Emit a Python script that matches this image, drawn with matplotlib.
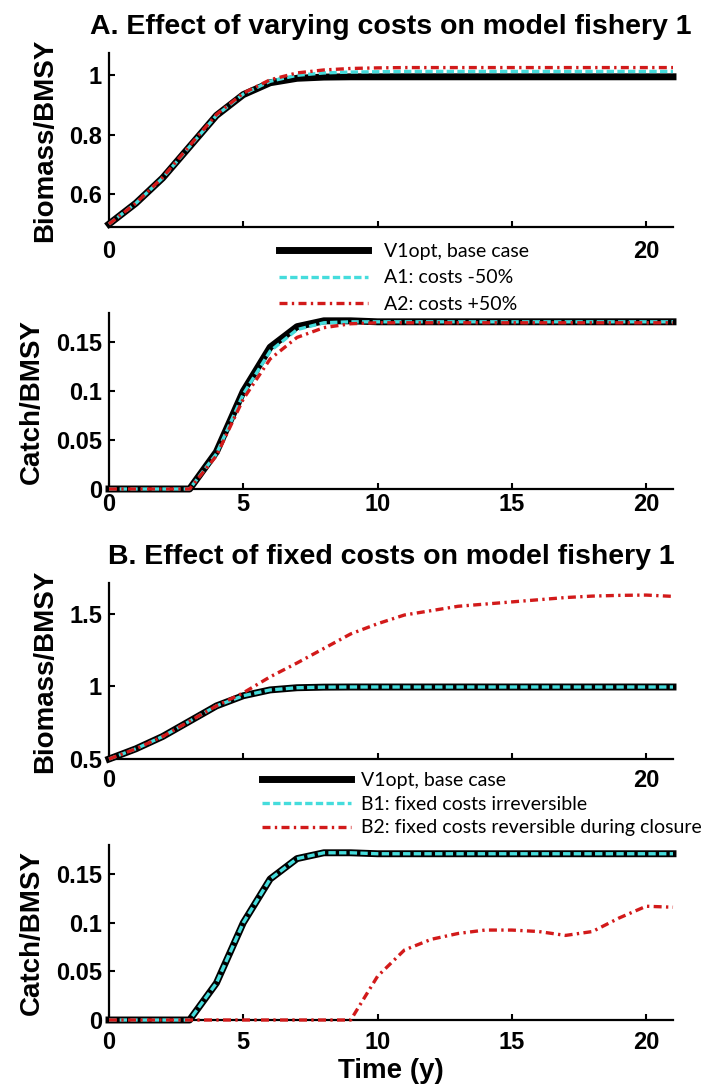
import matplotlib
matplotlib.use("Agg")
import matplotlib.pyplot as plt

# years since start of the simulation
years = list(range(22))

# A. varying costs (biomass and catch relative to BMSY)
v1_biomass = [0.50, 0.57, 0.655, 0.76, 0.865, 0.935, 0.975, 0.99, 0.994, 0.995, 0.995,
              0.995, 0.995, 0.995, 0.995, 0.995, 0.995, 0.995, 0.995, 0.995, 0.995, 0.995]
a1_biomass = [0.50, 0.57, 0.655, 0.76, 0.865, 0.937, 0.98, 1.0, 1.008, 1.011, 1.012,
              1.013, 1.013, 1.013, 1.013, 1.013, 1.013, 1.013, 1.013, 1.013, 1.013, 1.013]
a2_biomass = [0.50, 0.57, 0.657, 0.763, 0.868, 0.94, 0.985, 1.008, 1.018, 1.023, 1.025,
              1.026, 1.026, 1.026, 1.026, 1.026, 1.026, 1.026, 1.026, 1.026, 1.026, 1.026]

v1_catch = [0, 0, 0, 0, 0.038, 0.100, 0.145, 0.166, 0.172, 0.172, 0.171,
            0.171, 0.171, 0.171, 0.171, 0.171, 0.171, 0.171, 0.171, 0.171, 0.171, 0.171]
a1_catch = [0, 0, 0, 0, 0.036, 0.097, 0.141, 0.163, 0.170, 0.171, 0.171,
            0.171, 0.171, 0.171, 0.171, 0.171, 0.171, 0.171, 0.171, 0.171, 0.171, 0.171]
a2_catch = [0, 0, 0, 0, 0.034, 0.092, 0.133, 0.155, 0.165, 0.169, 0.170,
            0.170, 0.170, 0.170, 0.170, 0.170, 0.170, 0.170, 0.170, 0.170, 0.170, 0.170]

# B. fixed costs
b1_biomass = [0.50, 0.57, 0.655, 0.76, 0.865, 0.935, 0.975, 0.99, 0.994, 0.995, 0.995,
              0.995, 0.995, 0.995, 0.995, 0.995, 0.995, 0.995, 0.995, 0.995, 0.995, 0.995]
b2_biomass = [0.50, 0.57, 0.655, 0.76, 0.865, 0.955, 1.065, 1.16, 1.26, 1.36, 1.43,
              1.49, 1.52, 1.55, 1.565, 1.58, 1.595, 1.61, 1.62, 1.625, 1.627, 1.618]

b1_catch = [0, 0, 0, 0, 0.038, 0.100, 0.145, 0.166, 0.172, 0.172, 0.171,
            0.171, 0.171, 0.171, 0.171, 0.171, 0.171, 0.171, 0.171, 0.171, 0.171, 0.171]
b2_catch = [0, 0, 0, 0, 0, 0, 0, 0, 0, 0, 0.045,
            0.072, 0.083, 0.089, 0.0925, 0.0925, 0.091, 0.087, 0.091, 0.105, 0.117, 0.116]

labels_a = ["V1opt, base case", "A1: costs -50%", "A2: costs +50%"]
labels_b = ["V1opt, base case", "B1: fixed costs irreversible",
            "B2: fixed costs reversible during closure"]

CYAN = "#45dcdc"
RED = "#d21a1a"
W, H = 706, 1087

plt.rcParams["font.family"] = ["Liberation Sans", "DejaVu Sans"]
plt.rcParams["font.weight"] = "bold"
plt.rcParams["axes.titleweight"] = "bold"
plt.rcParams["axes.labelweight"] = "bold"

fig = plt.figure(figsize=(W / 100, H / 100), dpi=100)


def make_axes(top, bottom, xpad):
    ax = fig.add_axes([109 / W, 1 - bottom / H, (673 - 109) / W, (bottom - top) / H])
    for s in ["top", "right"]:
        ax.spines[s].set_visible(False)
    for s in ["left", "bottom"]:
        ax.spines[s].set_linewidth(1.6)
    ax.tick_params(direction="in", length=4, width=1.5, labelsize=17)
    ax.tick_params(axis="x", pad=xpad)
    ax.tick_params(axis="y", pad=5)
    ax.set_xlim(0, 21)
    ax.set_xticks([0, 5, 10, 15, 20])
    return ax


def draw(ax, y0, y1, y2):
    h0, = ax.plot(years, y0, color="black", lw=5, clip_on=False, zorder=3)
    h1, = ax.plot(years, y1, color=CYAN, lw=2.4, dashes=(2.2, 1.0), clip_on=False, zorder=4)
    h2, = ax.plot(years, y2, color=RED, lw=2.4, dashes=(2.4, 1.3, 0.7, 1.3), clip_on=False, zorder=5)
    return [h0, h1, h2]


# --- A: biomass ---
ax1 = make_axes(53, 227, 9)
hA = draw(ax1, v1_biomass, a1_biomass, a2_biomass)
ax1.set_ylim(0.49, 1.075)
ax1.set_yticks([0.6, 0.8, 1.0])
ax1.set_yticklabels(["0.6", "0.8", "1"])
ax1.set_xticklabels(["0", "", "", "", "20"])
ax1.set_ylabel("Biomass/BMSY", fontsize=20, labelpad=8)
ax1.set_title("A. Effect of varying costs on model fishery 1", fontsize=20.5, pad=14)

# --- A: catch ---
ax2 = make_axes(313, 489, 3)
draw(ax2, v1_catch, a1_catch, a2_catch)
ax2.set_ylim(0, 0.18)
ax2.set_yticks([0, 0.05, 0.1, 0.15])
ax2.set_yticklabels(["0", "0.05", "0.1", "0.15"])
ax2.set_ylabel("Catch/BMSY", fontsize=20, labelpad=8)

# --- B: biomass ---
ax3 = make_axes(583, 759, 7)
hB = draw(ax3, v1_biomass, b1_biomass, b2_biomass)
ax3.set_ylim(0.5, 1.71)
ax3.set_yticks([0.5, 1.0, 1.5])
ax3.set_yticklabels(["0.5", "1", "1.5"])
ax3.set_xticklabels(["0", "", "", "", "20"])
ax3.set_ylabel("Biomass/BMSY", fontsize=20, labelpad=8)
ax3.set_title("B. Effect of fixed costs on model fishery 1", fontsize=20.5, pad=14)

# --- B: catch ---
ax4 = make_axes(845, 1020, 8)
draw(ax4, v1_catch, b1_catch, b2_catch)
ax4.set_ylim(0, 0.18)
ax4.set_yticks([0, 0.05, 0.1, 0.15])
ax4.set_yticklabels(["0", "0.05", "0.1", "0.15"])
ax4.set_ylabel("Catch/BMSY", fontsize=20, labelpad=8)
ax4.set_xlabel("Time (y)", fontsize=20, labelpad=3)

legend_font = {"family": "Lato", "weight": "normal", "size": 14}
fig.legend(hA, labels_a, loc="upper left", bbox_to_anchor=(269 / W, 1 - 233 / H),
           frameon=False, borderpad=0, handlelength=4.6, handletextpad=0.8,
           labelspacing=0.5, prop=legend_font)
fig.legend(hB, labels_b, loc="upper left", bbox_to_anchor=(252 / W, 1 - 762 / H),
           frameon=False, borderpad=0, handlelength=4.6, handletextpad=0.5,
           labelspacing=0.35, prop=legend_font)

fig.savefig("out.png", dpi=100)
